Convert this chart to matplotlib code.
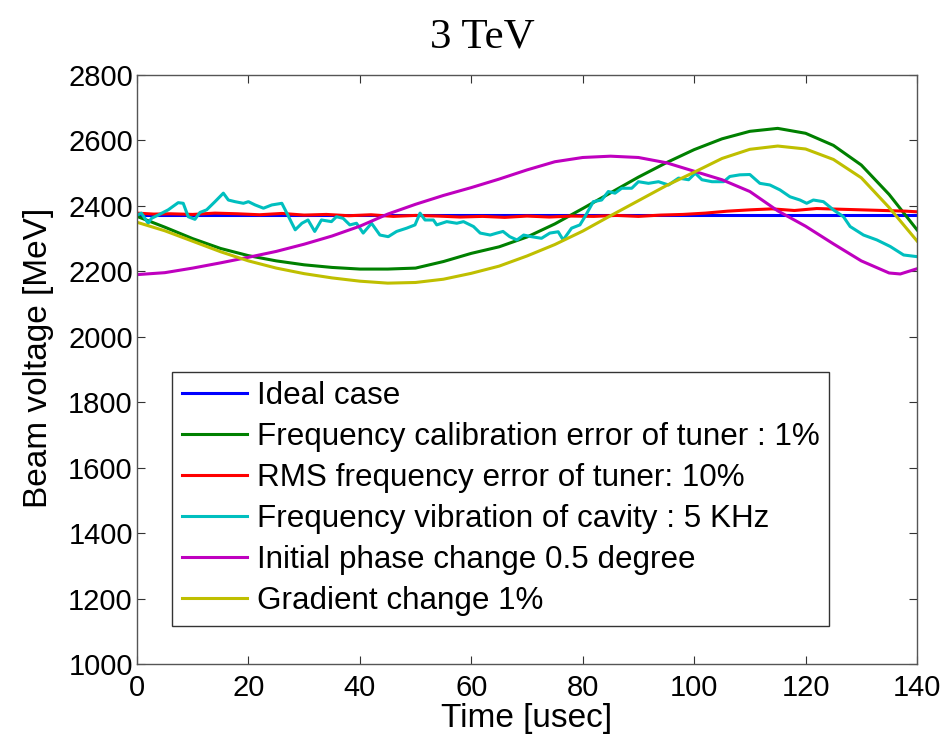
import numpy as np
import matplotlib
matplotlib.use("Agg")
from matplotlib import pyplot as plt

plt.rcParams['font.family'] = ['Liberation Sans', 'DejaVu Sans']

# values (x in usec, y in MeV)
ideal_x = [0, 140]
ideal_y = [2372, 2372]

green_x = [0, 5, 10, 15, 20, 25, 30, 35, 40, 45, 50, 55, 60, 65, 70, 75, 80,
           85, 90, 95, 100, 105, 110, 115, 120, 125, 130, 135, 140]
green_y = [2368, 2335, 2300, 2270, 2248, 2232, 2220, 2212, 2207, 2207, 2210,
           2230, 2255, 2275, 2305, 2345, 2392, 2440, 2488, 2532, 2572, 2605,
           2628, 2637, 2622, 2585, 2525, 2435, 2327]

red_x = [0, 3, 6, 10, 14, 18, 22, 26, 30, 34, 38, 42, 46, 50, 54, 58, 62, 66,
         70, 74, 78, 82, 86, 90, 94, 98, 102, 106, 110, 114, 118, 122, 126,
         130, 134, 138, 140]
red_y = [2378, 2375, 2376, 2374, 2378, 2376, 2373, 2377, 2372, 2374, 2370,
         2373, 2368, 2371, 2369, 2366, 2368, 2365, 2369, 2366, 2369, 2368,
         2371, 2368, 2372, 2374, 2378, 2384, 2388, 2391, 2386, 2392, 2390,
         2388, 2386, 2384, 2382]

cyan_x = [0, 0.8, 2.0, 2.6, 3.8, 5.6, 7.4, 8.3, 9.2, 10.4, 11.3, 12.5, 14.0,
          15.5, 16.4, 17.6, 19.1, 20.0, 21.2, 22.7, 24.2, 26.0, 26.6, 27.8,
          28.4, 29.6, 30.7, 31.9, 33.1, 34.9, 35.8, 37.0, 38.2, 39.4, 40.6,
          42.1, 43.6, 45.1, 46.6, 48.4, 49.9, 50.8, 51.7, 53.2, 53.8, 55.6,
          57.4, 58.6, 60.4, 61.6, 63.4, 64.6, 65.7, 66.9, 68.2, 69.4, 70.8,
          72.6, 74.1, 75.6, 76.5, 78.0, 79.5, 80.4, 81.9, 83.4, 84.6, 85.8,
          87.0, 88.8, 90.0, 91.8, 93.6, 95.4, 97.2, 99.0, 100.2, 101.4, 103.2,
          105.3, 106.4, 108.2, 110.0, 111.8, 113.6, 115.4, 117.2, 119.0,
          120.2, 121.4, 123.2, 125.0, 126.8, 128.0, 130.4, 132.8, 135.2,
          137.6, 140]
cyan_y = [2372, 2378, 2347, 2362, 2372, 2388, 2410, 2408, 2367, 2359, 2380,
          2388, 2413, 2439, 2418, 2413, 2408, 2413, 2403, 2393, 2403, 2408,
          2388, 2347, 2327, 2347, 2357, 2322, 2357, 2352, 2367, 2362, 2342,
          2347, 2317, 2347, 2311, 2306, 2322, 2332, 2342, 2378, 2357, 2357,
          2342, 2352, 2347, 2352, 2337, 2317, 2311, 2317, 2322, 2306, 2296,
          2311, 2306, 2301, 2317, 2321, 2296, 2332, 2342, 2367, 2413, 2418,
          2444, 2439, 2454, 2454, 2474, 2469, 2474, 2464, 2485, 2480, 2500,
          2480, 2474, 2474, 2490, 2495, 2496, 2469, 2464, 2449, 2428, 2418,
          2408, 2418, 2413, 2388, 2367, 2337, 2311, 2296, 2276, 2250, 2245]

magenta_x = [0, 5, 10, 15, 20, 25, 30, 35, 40, 45, 50, 55, 60, 65, 70, 75,
             80, 85, 90, 95, 100, 105, 110, 115, 120, 125, 130, 135, 137, 140]
magenta_y = [2190, 2196, 2210, 2226, 2243, 2261, 2283, 2308, 2338, 2375, 2405,
             2432, 2456, 2482, 2510, 2535, 2548, 2552, 2548, 2532, 2506, 2480,
             2444, 2385, 2338, 2284, 2232, 2195, 2192, 2208]

yellow_x = [0, 5, 10, 15, 20, 25, 30, 35, 40, 45, 50, 55, 60, 65, 70, 75, 80,
            85, 90, 95, 100, 105, 110, 115, 120, 125, 130, 135, 140]
yellow_y = [2350, 2324, 2292, 2260, 2232, 2210, 2193, 2180, 2170, 2164, 2166,
            2176, 2194, 2216, 2247, 2282, 2323, 2370, 2416, 2462, 2503, 2545,
            2573, 2583, 2574, 2542, 2486, 2395, 2293]

labels = ['Ideal case',
          'Frequency calibration error of tuner : 1%',
          'RMS frequency error of tuner: 10%',
          'Frequency vibration of cavity : 5 KHz',
          'Initial phase change 0.5 degree',
          'Gradient change 1%']

fig = plt.figure(figsize=(9.48, 7.40), dpi=100)
ax = fig.add_axes([0.1445, 0.1027, 0.8228, 0.7959])

lw = 2.2
ax.plot(ideal_x, ideal_y, color='#0000ff', lw=lw, label=labels[0])
ax.plot(green_x, green_y, color='#008000', lw=lw, label=labels[1])
ax.plot(red_x, red_y, color='#ff0000', lw=lw, label=labels[2])
ax.plot(cyan_x, cyan_y, color='#00bfbf', lw=lw, label=labels[3])
ax.plot(magenta_x, magenta_y, color='#bf00bf', lw=lw, label=labels[4])
ax.plot(yellow_x, yellow_y, color='#bfbf00', lw=lw, label=labels[5])

ax.set_xlim(0, 140)
ax.set_ylim(1000, 2800)
ax.set_xticks(np.arange(0, 141, 20))
ax.set_yticks(np.arange(1000, 2801, 200))
ax.tick_params(direction='in', top=True, right=True, length=6,
               labelsize=21, color='#333333')
ax.tick_params(axis='y', pad=3)
ax.tick_params(axis='x', pad=7)
for s in ax.spines.values():
    s.set_color('#555555')
    s.set_linewidth(1.0)

ax.set_xlabel('Time [usec]', fontsize=24, labelpad=1)
ax.set_ylabel('Beam voltage [MeV]', fontsize=24)
ax.yaxis.set_label_coords(-0.107, 0.52)
ax.set_title('3 TeV', fontsize=31, family=['Liberation Serif', 'DejaVu Serif'],
             x=0.443, pad=20)

leg = ax.legend(loc='lower left', bbox_to_anchor=(0.045, 0.065), fontsize=22.6,
                fancybox=False, framealpha=1, edgecolor='#333333',
                handlelength=2.1, labelspacing=0.35, borderpad=0.3,
                handletextpad=0.3, borderaxespad=0)
leg.get_frame().set_linewidth(1.0)

fig.savefig('out.png', dpi=100)
